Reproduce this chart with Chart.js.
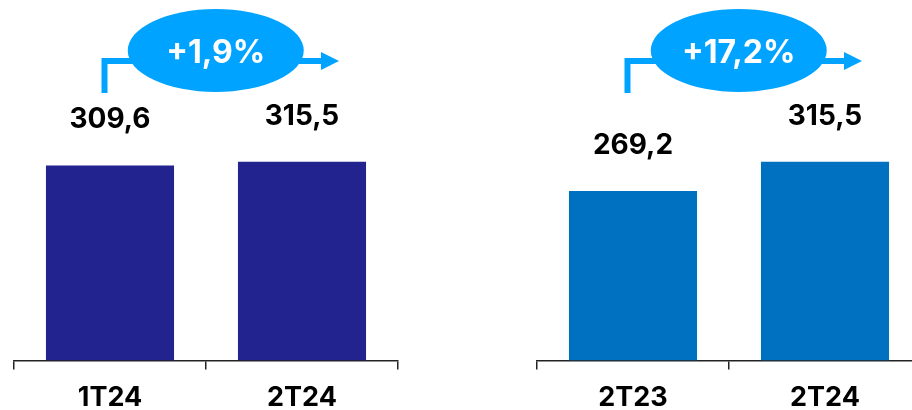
<!DOCTYPE html>
<html>
<head>
<meta charset="utf-8">
<script src="https://cdn.jsdelivr.net/npm/chart.js@4/dist/chart.umd.min.js"></script>
<style>
  html, body { margin: 0; padding: 0; background: #fff; overflow: hidden; }
  body { width: 912px; height: 410px; position: relative; }
  canvas { position: absolute; top: 0; }
  #leftChart { left: 0; }
  #rightChart { left: 456px; }
</style>
</head>
<body>
<canvas id="leftChart" width="456" height="426"></canvas>
<canvas id="rightChart" width="480" height="426"></canvas>
<script>
// Data
const categoriesLeft = ['1T24', '2T24'];
const valuesLeft = [309.6, 315.5];
const categoriesRight = ['2T23', '2T24'];
const valuesRight = [269.2, 315.5];
const changeLeft = '+1,9%';
const changeRight = '+17,2%';
const yMax = 572;

const fmt = v => v.toFixed(1).replace('.', ',');

// value labels + the arrow with the growth bubble
const labelsAndArrow = {
  id: 'labelsAndArrow',
  afterDatasetsDraw(chart, args, opts) {
    const ctx = chart.ctx;
    const meta = chart.getDatasetMeta(0);
    const xs = chart.scales.x;

    ctx.save();
    ctx.fillStyle = '#000';
    ctx.font = 'bold 28px Inter';
    ctx.textAlign = 'center';
    ctx.textBaseline = 'alphabetic';
    meta.data.forEach((bar, i) => {
      ctx.fillText(fmt(chart.data.datasets[0].data[i]), bar.x, bar.y - 37);
    });

    const startX = xs.getPixelForValue(0) - 5.5;
    const endX = xs.getPixelForValue(1) + 37;
    const blue = '#00A3FF';
    ctx.strokeStyle = blue;
    ctx.fillStyle = blue;
    ctx.lineWidth = 6;
    ctx.lineCap = 'butt';
    ctx.lineJoin = 'miter';
    ctx.beginPath();
    ctx.moveTo(startX, 93);
    ctx.lineTo(startX, 61);
    ctx.lineTo(endX - 18, 61);
    ctx.stroke();
    ctx.beginPath();
    ctx.moveTo(endX - 18, 52);
    ctx.lineTo(endX, 61);
    ctx.lineTo(endX - 18, 70);
    ctx.closePath();
    ctx.fill();

    const cx = (startX + endX) / 2 - 6;
    ctx.beginPath();
    ctx.ellipse(cx, 50.5, 88, 41.5, 0, 0, Math.PI * 2);
    ctx.fill();

    ctx.fillStyle = '#fff';
    ctx.font = 'bold 32px Inter';
    ctx.fillText(opts.text, cx, 63);
    ctx.restore();
  }
};

function makeChart(id, categories, values, color, padLeft, padRight, change) {
  return new Chart(document.getElementById(id), {
    type: 'bar',
    data: {
      labels: categories,
      datasets: [{
        data: values,
        backgroundColor: color,
        categoryPercentage: 1,
        barPercentage: 0.667
      }]
    },
    options: {
      responsive: false,
      animation: false,
      layout: { padding: { left: padLeft, right: padRight, top: 0, bottom: 0 } },
      plugins: {
        legend: { display: false },
        tooltip: { enabled: false },
        labelsAndArrow: { text: change }
      },
      scales: {
        x: {
          grid: { drawOnChartArea: false, drawTicks: true, tickLength: 9, color: '#222', lineWidth: 1.5, offset: true },
          border: { display: true, color: '#222', width: 1.5 },
          ticks: {
            color: '#000',
            padding: 12,
            font: { family: 'Inter', size: 27, weight: 'bold' }
          }
        },
        y: { display: false, min: 0, max: yMax }
      }
    },
    plugins: [labelsAndArrow]
  });
}

makeChart('leftChart', categoriesLeft, valuesLeft, '#23238F', 14, 58, changeLeft);
makeChart('rightChart', categoriesRight, valuesRight, '#0070C0', 81, 15, changeRight);
</script>
</body>
</html>
